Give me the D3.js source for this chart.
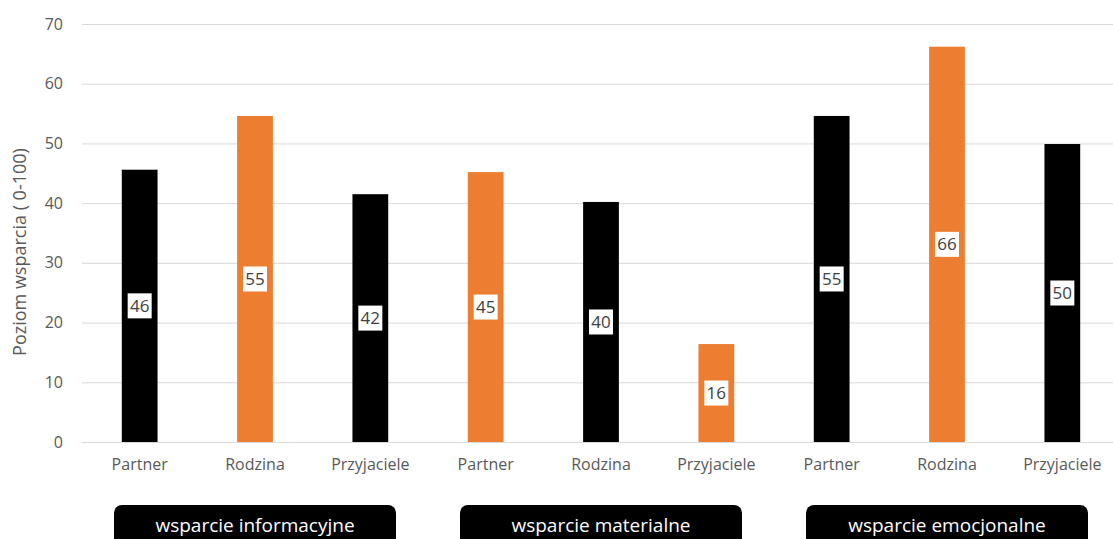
<!DOCTYPE html>
<html>
<head>
<meta charset="utf-8">
<script src="https://cdn.jsdelivr.net/npm/d3@7"></script>
<style>
  html, body { margin: 0; padding: 0; background: #fff; }
  svg { display: block; font-family: "Open Sans", sans-serif; }
</style>
</head>
<body>
<svg id="chart" width="1113" height="539"></svg>
<script>
// Data
const categories = ["Partner", "Rodzina", "Przyjaciele",
                    "Partner", "Rodzina", "Przyjaciele",
                    "Partner", "Rodzina", "Przyjaciele"];
const values = [45.6, 54.6, 41.5, 45.2, 40.2, 16.4, 54.6, 66.2, 49.9];
const groups = ["wsparcie informacyjne", "wsparcie materialne", "wsparcie emocjonalne"];
const yTicks = [0, 10, 20, 30, 40, 50, 60, 70];
const yTitle = "Poziom wsparcia ( 0-100)";

document.addEventListener("DOMContentLoaded", function() {
    var svg = d3.select("#chart");

    const barColors = ["#000000", "#ED7D31"];
    const textGray = "#595959";

    const ids = categories.map((c, i) => i);

    // band scale runs a little past the right edge, like the cropped original
    const x = d3.scaleBand()
        .domain(ids)
        .range([82, 1120])
        .paddingInner(0.69)
        .paddingOuter(0.345);

    const y = d3.scaleLinear()
        .domain([0, 70])
        .range([442, 24]);

    // Gridlines
    svg.append("g")
        .selectAll("line")
        .data(yTicks)
        .join("line")
            .attr("x1", 82)
            .attr("x2", 1113)
            .attr("y1", d => y(d) + 0.5)
            .attr("y2", d => y(d) + 0.5)
            .attr("stroke", "#d9d9d9")
            .attr("stroke-width", 1);

    // Y axis labels
    const yAxis = d3.axisLeft(y).tickValues(yTicks).tickSize(0).tickPadding(0);
    const gy = svg.append("g")
        .attr("transform", "translate(63,0)")
        .call(yAxis);
    gy.select(".domain").remove();
    gy.selectAll("text")
        .attr("fill", textGray)
        .attr("font-size", 16)
        .attr("font-family", "Open Sans, sans-serif");

    // Y axis title
    svg.append("text")
        .attr("transform", "translate(26,252) rotate(-90)")
        .attr("text-anchor", "middle")
        .attr("fill", textGray)
        .attr("font-size", 18)
        .text(yTitle);

    // Bars
    svg.append("g")
        .selectAll("rect")
        .data(values)
        .join("rect")
            .attr("x", (d, i) => x(i))
            .attr("width", x.bandwidth())
            .attr("y", d => y(d))
            .attr("height", d => y(0) - y(d))
            .attr("fill", (d, i) => barColors[i % 2]);

    // Baseline
    svg.append("line")
        .attr("x1", 82).attr("x2", 1113)
        .attr("y1", y(0) + 0.5).attr("y2", y(0) + 0.5)
        .attr("stroke", "#d9d9d9");

    // Value labels in the middle of each bar
    const lab = svg.append("g")
        .selectAll("g")
        .data(values)
        .join("g")
            .attr("transform", (d, i) =>
                `translate(${x(i) + x.bandwidth() / 2},${(y(d) + y(0)) / 2})`);

    lab.append("rect")
        .attr("x", -12)
        .attr("y", -12.5)
        .attr("width", 24)
        .attr("height", 25)
        .attr("fill", "#fff");

    lab.append("text")
        .attr("text-anchor", "middle")
        .attr("dy", "0.36em")
        .attr("fill", "#404040")
        .attr("font-size", 17)
        .text(d => Math.round(d));

    // X axis labels
    const xAxis = d3.axisBottom(x).tickSize(0).tickPadding(0)
        .tickFormat(i => categories[i]);
    const gx = svg.append("g")
        .attr("transform", "translate(0,459)")
        .call(xAxis);
    gx.select(".domain").remove();
    gx.selectAll("text")
        .attr("fill", textGray)
        .attr("font-size", 16)
        .attr("font-family", "Open Sans, sans-serif");

    // Group boxes under each triple
    const gb = svg.append("g")
        .selectAll("g")
        .data(groups)
        .join("g")
            .attr("transform", (d, i) =>
                `translate(${x(i * 3 + 1) + x.bandwidth() / 2},0)`);

    gb.append("rect")
        .attr("x", -141)
        .attr("y", 505)
        .attr("width", 282)
        .attr("height", 50)
        .attr("rx", 8)
        .attr("fill", "#000");

    gb.append("text")
        .attr("text-anchor", "middle")
        .attr("y", 532)
        .attr("fill", "#fff")
        .attr("font-size", 19)
        .text(d => d);
});
</script>
</body>
</html>
